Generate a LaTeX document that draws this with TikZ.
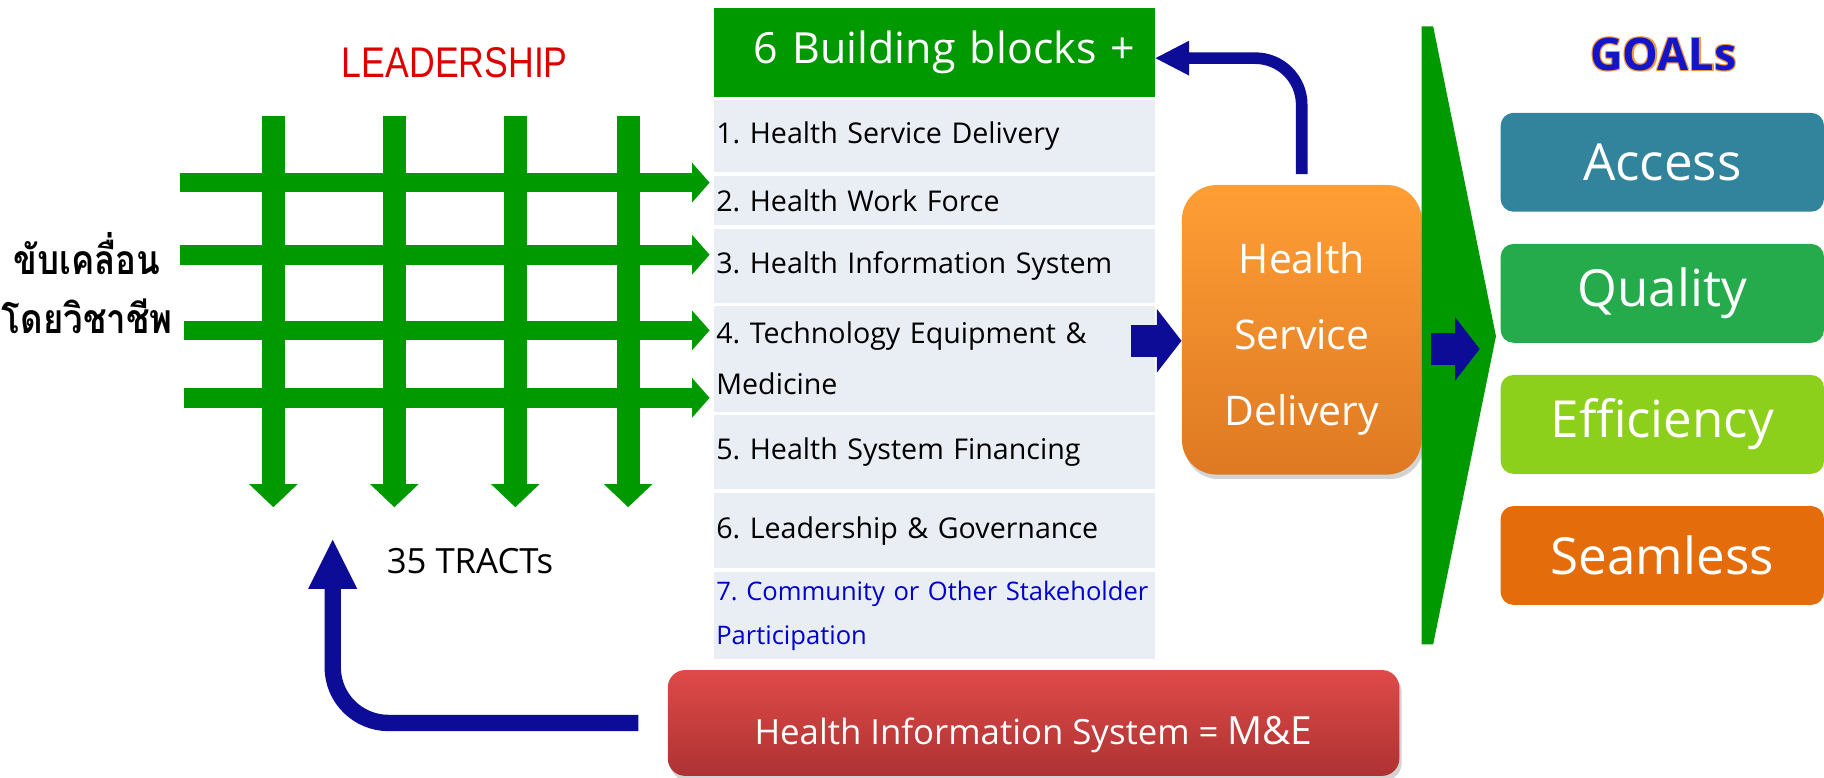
\documentclass[tikz,border=0pt]{standalone}
\usepackage{fontspec}
\setmainfont{Open Sans}
\newfontfamily\leadfont[FakeStretch=0.83]{Liberation Sans}
\newfontfamily\thaifont[Script=Thai,FakeStretch=0.85]{Loma}
\usetikzlibrary{positioning,arrows.meta,shadows,calc}
\definecolor{gridgreen}{RGB}{0,153,0}
\definecolor{rowgray}{RGB}{233,237,244}
\definecolor{navyarrow}{RGB}{12,12,150}
\definecolor{leadred}{RGB}{220,0,0}
\definecolor{partblue}{RGB}{0,0,204}
\definecolor{goalblue}{RGB}{20,20,200}
\definecolor{glowor}{RGB}{240,150,60}
\definecolor{accessteal}{RGB}{49,132,155}
\definecolor{qualitygreen}{RGB}{37,171,75}
\definecolor{efficiencylime}{RGB}{141,208,28}
\definecolor{seamlessorange}{RGB}{228,108,10}
\definecolor{hsdtop}{RGB}{255,158,53}
\definecolor{hsdbottom}{RGB}{222,121,34}
\definecolor{metop}{RGB}{222,74,72}
\definecolor{mebottom}{RGB}{174,50,50}

\tikzset{
  gridarrow/.style={gridgreen, line width=9.6pt, -{Triangle[length=8.5pt,width=19.3pt,line width=0pt]}},
  downarrow/.style={gridgreen, line width=11.3pt, -{Triangle[length=11.3pt,width=23.8pt,line width=0pt]}},
  thaitext/.style={font=\thaifont\bfseries\fontsize{20}{20}\selectfont},
  headbox/.style={fill=gridgreen, text=white, minimum height=1.52cm, text width=6.9cm, inner xsep=0.34cm, align=right, font=\fontsize{21}{21}\selectfont},
  blockrow/.style={fill=rowgray, text width=7.51cm, inner xsep=1pt, inner ysep=0pt, align=left, font=\frenchspacing\fontsize{14}{25}\selectfont},
  hsdbox/.style={rounded corners=0.6cm, top color=hsdtop, bottom color=hsdbottom, text=white, minimum width=4.12cm, minimum height=4.98cm, align=center, font=\fontsize{20}{37}\selectfont, text height=98pt, drop shadow={opacity=0.35, shadow xshift=0.04cm, shadow yshift=-0.08cm}},
  blockarrow/.style={navyarrow, line width=15.9pt, -{Triangle[length=12pt,width=31pt,line width=0pt]}},
  curvearrow/.style={navyarrow, line width=5.7pt, rounded corners=0.8cm, shorten <=0.18cm, -{Triangle[length=16.4pt,width=17pt,line width=0pt]}},
  mearrow/.style={navyarrow, line width=8pt, rounded corners=0.96cm, shorten <=0.5cm, -{Triangle[length=24pt,width=24pt,line width=0pt]}},
  goalbox/.style={rounded corners=0.22cm, minimum width=5.56cm, minimum height=1.7cm, text=white, font=\fontsize{25}{25}\selectfont},
  goalsfont/.style={font=\bfseries\fontsize{22}{22}\selectfont},
  mebox/.style={rounded corners=0.3cm, top color=metop, bottom color=mebottom, text=white, minimum width=12.58cm, minimum height=1.82cm, font=\fontsize{17}{17}\selectfont, text height=25pt, text depth=4pt, drop shadow={opacity=0.35, shadow xshift=0.04cm, shadow yshift=-0.08cm}}
}

\begin{document}
\begin{tikzpicture}[x=0.02cm, y=-0.02cm]
\useasboundingbox (0,0) rectangle (1568,668);

% Leadership grid
\node[font=\leadfont\fontsize{21}{21}\selectfont, leadred] (lead) at (391,54) {LEADERSHIP};
\foreach \gx in {235,339,443,540}
  \draw[downarrow] (\gx,100) -- (\gx,436);
\foreach \gy/\gs in {157/155,219/155,284/158,342/158}
  \draw[gridarrow] (\gs,\gy) -- (610,\gy);

\node[thaitext] (drive) at (75,218) {ขับเคลื่อน};
\node[thaitext] (prof) at (75,272) {โดยวิชาชีพ};
\node[font=\fontsize{17}{17}\selectfont] (tracts) at (404,482) {35 TRACTs};

% Building blocks
\node[headbox] (blocks) at (803.5,45) {6 Building blocks +};
\node[blockrow, minimum height=1.24cm, below=0.04cm of blocks] (r1) {1. Health Service Delivery};
\node[blockrow, minimum height=0.84cm, below=0.06cm of r1] (r2) {2. Health Work Force};
\node[blockrow, minimum height=1.26cm, below=0.06cm of r2] (r3) {3. Health Information System};
\node[blockrow, minimum height=1.82cm, below=0.04cm of r3] (r4) {4. Technology Equipment \&\\Medicine};
\node[blockrow, minimum height=1.28cm, below=0.04cm of r4] (r5) {5. Health System Financing};
\node[blockrow, minimum height=1.28cm, below=0.06cm of r5] (r6) {6. Leadership \& Governance};
\node[blockrow, minimum height=1.5cm, below=0.06cm of r6, text=partblue, font=\frenchspacing\fontsize{12.5}{21.5}\selectfont] (r7) {7. Community or Other Stakeholder\\Participation};

% Health Service Delivery
\node[hsdbox] (hsd) at (1119,283.5) {Health\\Service\\Delivery};
\coordinate (t4) at (972,293);
\draw[blockarrow] (t4) -- (t4 -| hsd.west);
\draw[curvearrow] (hsd.north) |- ([yshift=-0.1cm]blocks.east);

% Goals
\fill[gridgreen] (1222,22.6) -- (1232,22.6) -- (1286,289) -- (1232,554) -- (1222,554) -- cycle;
\coordinate (gin) at (1230,300);
\coordinate (gout) at (1272,300);
\draw[blockarrow] (gin) -- (gout);

\foreach \ox/\oy [count=\k] in {1/1,-1/1,1/-1,-1/-1}
  \node[goalsfont, glowor] (glow\k) at ($(1430,47)+(\ox,\oy)$) {GOALs};
\node[goalsfont, goalblue] (goals) at (1430,47) {GOALs};

\node[goalbox, fill=accessteal] (access) at (1429,139.5) {Access};
\node[goalbox, fill=qualitygreen, below=0.54cm of access] (quality) {Quality};
\node[goalbox, fill=efficiencylime, below=0.54cm of quality] (efficiency) {Efficiency};
\node[goalbox, fill=seamlessorange, below=0.54cm of efficiency] (seamless) {Seamless};

% Monitoring and evaluation
\node[mebox] (me) at (888.5,621.5) {Health Information System = {\fontsize{19}{19}\selectfont M\&E}};
\coordinate (tractsin) at (286,464);
\draw[mearrow] (me.west) -| (tractsin);

\end{tikzpicture}
\end{document}
